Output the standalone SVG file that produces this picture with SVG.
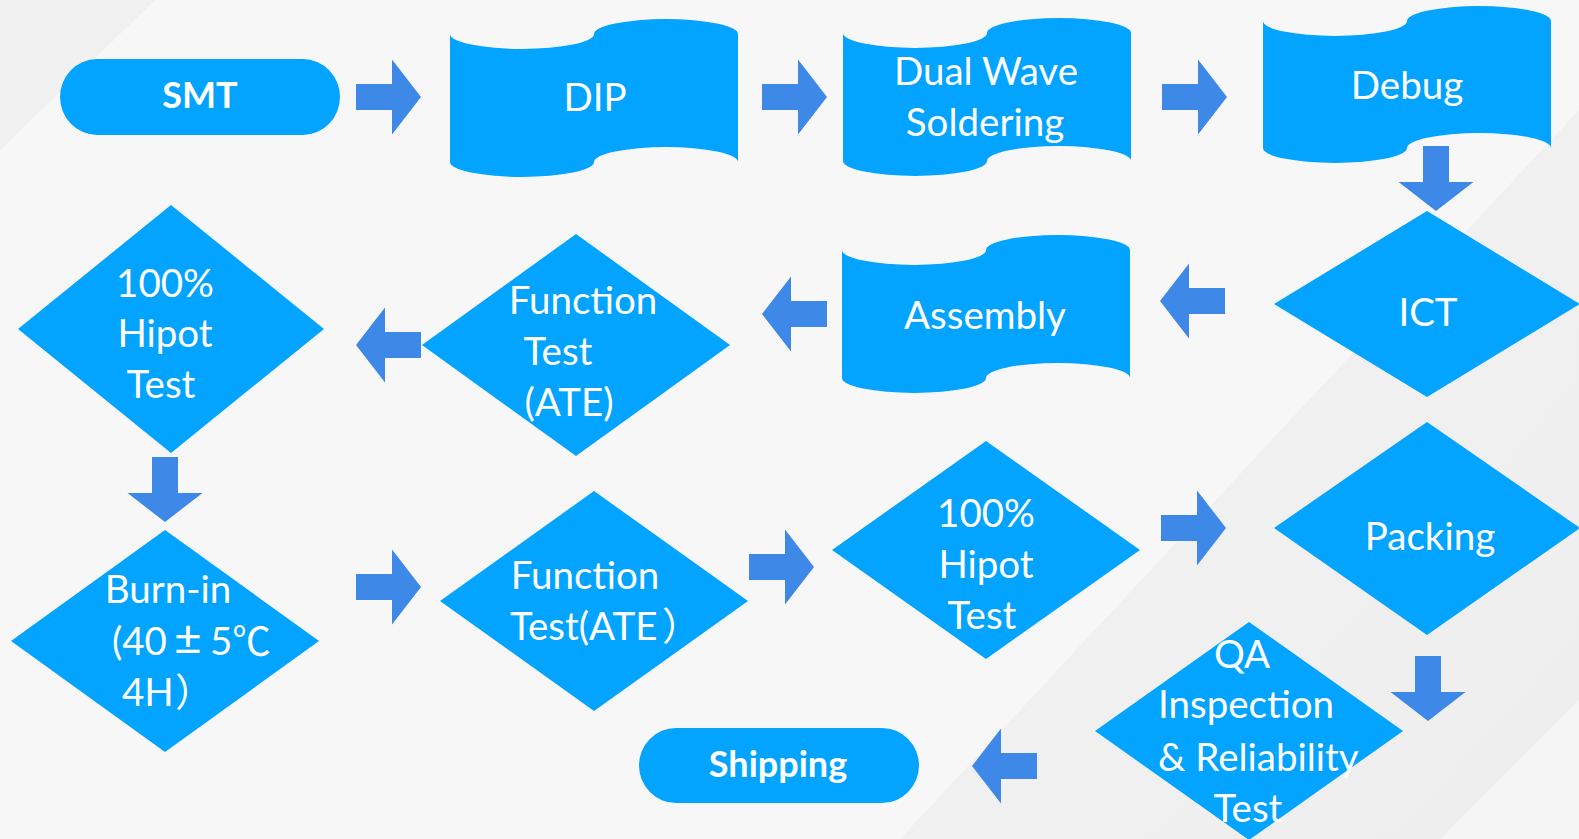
<svg xmlns="http://www.w3.org/2000/svg" xmlns:xlink="http://www.w3.org/1999/xlink" width="1579" height="839" viewBox="0 0 1579 839">
<style>
.bg{fill:#f7f7f7}
.band{fill:#f0f0f0}
.node{fill:#02a4ff}
.arrow{fill:#3e89e7}
.t{font-family:Lato,"Noto Sans CJK SC",sans-serif;font-size:38.5px;fill:#ffffff;text-anchor:middle}
.ts{text-anchor:start}
.b{font-weight:bold;font-size:36px}
</style>
<defs>
<path id="arr" d="M0,-13 L36,-13 L36,-37.5 L65,0 L36,37.5 L36,13 L0,13 Z"/>
<linearGradient id="bandg" x1="0" y1="0" x2="1" y2="1">
<stop offset="0" stop-color="#f3f3f3"/>
<stop offset="1" stop-color="#eeeeee"/>
</linearGradient>
</defs>
<rect class="bg" x="0" y="0" width="1579" height="839"/>
<polygon class="band" points="0,0 155,0 0,150"/>
<polygon fill="url(#bandg)" points="1579,110 1579,839 900,839"/>
<polygon fill="#f5f5f5" points="1579,700 1579,839 1440,839"/>

<g id="connectors">
<use class="arrow" xlink:href="#arr" transform="translate(356,97)"/>
<use class="arrow" xlink:href="#arr" transform="translate(762,97)"/>
<use class="arrow" xlink:href="#arr" transform="translate(1162,97)"/>
<use class="arrow" xlink:href="#arr" transform="translate(1436,146) rotate(90)"/>
<use class="arrow" xlink:href="#arr" transform="translate(1225,301) rotate(180)"/>
<use class="arrow" xlink:href="#arr" transform="translate(827,314) rotate(180)"/>
<use class="arrow" xlink:href="#arr" transform="translate(421,345) rotate(180)"/>
<use class="arrow" xlink:href="#arr" transform="translate(165,457) rotate(90)"/>
<use class="arrow" xlink:href="#arr" transform="translate(356,587)"/>
<use class="arrow" xlink:href="#arr" transform="translate(749,567)"/>
<use class="arrow" xlink:href="#arr" transform="translate(1161,528)"/>
<use class="arrow" xlink:href="#arr" transform="translate(1428,656) rotate(90)"/>
<use class="arrow" xlink:href="#arr" transform="translate(1037,766) rotate(180)"/>
</g>

<g id="smt">
<rect class="node" x="60" y="59" width="280" height="76" rx="37" ry="38"/>
<text class="t b" x="200" y="108">SMT</text>
</g>

<g id="dip">
<path class="node" d="M450,34 A72,15 0 0 0 594,34 A72,15 0 0 1 738,34 L738,162 A72,15 0 0 0 594,162 A72,15 0 0 1 450,162 Z"/>
<text class="t" x="595" y="111">DIP</text>
</g>

<g id="dual-wave">
<path class="node" d="M843,33 A72,15 0 0 0 987,33 A72,15 0 0 1 1131,33 L1131,161 A72,15 0 0 0 987,161 A72,15 0 0 1 843,161 Z"/>
<text class="t" x="986" y="85">Dual Wave</text>
<text class="t" x="985" y="136">Soldering</text>
</g>

<g id="debug">
<path class="node" d="M1263,21 A72,15 0 0 0 1407,21 A72,15 0 0 1 1551,21 L1551,148 A72,15 0 0 0 1407,148 A72,15 0 0 1 1263,148 Z"/>
<text class="t" x="1407" y="99">Debug</text>
</g>

<g id="ict">
<polygon class="node" points="1427,211 1580,304 1427,397 1274,304"/>
<text class="t" x="1428" y="326">ICT</text>
</g>

<g id="assembly">
<path class="node" d="M842,250 A72,15 0 0 0 986,250 A72,15 0 0 1 1130,250 L1130,378 A72,15 0 0 0 986,378 A72,15 0 0 1 842,378 Z"/>
<text class="t" x="985" y="329">Assembly</text>
</g>

<g id="function-test-1">
<polygon class="node" points="576,234 730,345 576,456 422,345"/>
<text class="t" x="583" y="314">Function</text>
<text class="t" x="558" y="365">Test</text>
<text class="t" x="569" y="416">(ATE)</text>
</g>

<g id="hipot-1">
<polygon class="node" points="171,205 324,329 171,453 18,329"/>
<text class="t" x="165" y="297">100%</text>
<text class="t" x="165" y="347">Hipot</text>
<text class="t" x="161" y="398">Test</text>
</g>

<g id="burn-in">
<polygon class="node" points="165,530 319,641 165,752 11,641"/>
<text class="t" x="168" y="603">Burn-in</text>
<text class="t ts" y="655"><tspan x="112">(40</tspan><tspan x="174" font-size="48px">±</tspan><tspan x="210">5℃</tspan></text>
<text class="t ts" y="706"><tspan x="122">4H</tspan><tspan x="175">）</tspan></text>
</g>

<g id="function-test-2">
<polygon class="node" points="594,491 748,601 594,711 440,601"/>
<text class="t" x="585" y="589">Function</text>
<text class="t ts" y="640"><tspan x="510">Test(ATE</tspan><tspan x="662">）</tspan></text>
</g>

<g id="hipot-2">
<polygon class="node" points="986,441 1140,550 986,659 832,550"/>
<text class="t" x="986" y="527">100%</text>
<text class="t" x="986" y="578">Hipot</text>
<text class="t" x="982" y="629">Test</text>
</g>

<g id="packing">
<polygon class="node" points="1427,422 1580,528 1427,635 1274,528"/>
<text class="t" x="1430" y="550">Packing</text>
</g>

<g id="qa">
<polygon class="node" points="1249,622 1403,731 1249,840 1095,731"/>
<text class="t" x="1242" y="668">QA</text>
<text class="t" x="1246" y="718">Inspection</text>
<text class="t ts" x="1158" y="771">&amp; Reliability</text>
<text class="t" x="1248" y="822">Test</text>
</g>

<g id="shipping">
<rect class="node" x="639" y="728" width="280" height="75" rx="37" ry="37.5"/>
<text class="t b" x="778" y="777">Shipping</text>
</g>
</svg>
